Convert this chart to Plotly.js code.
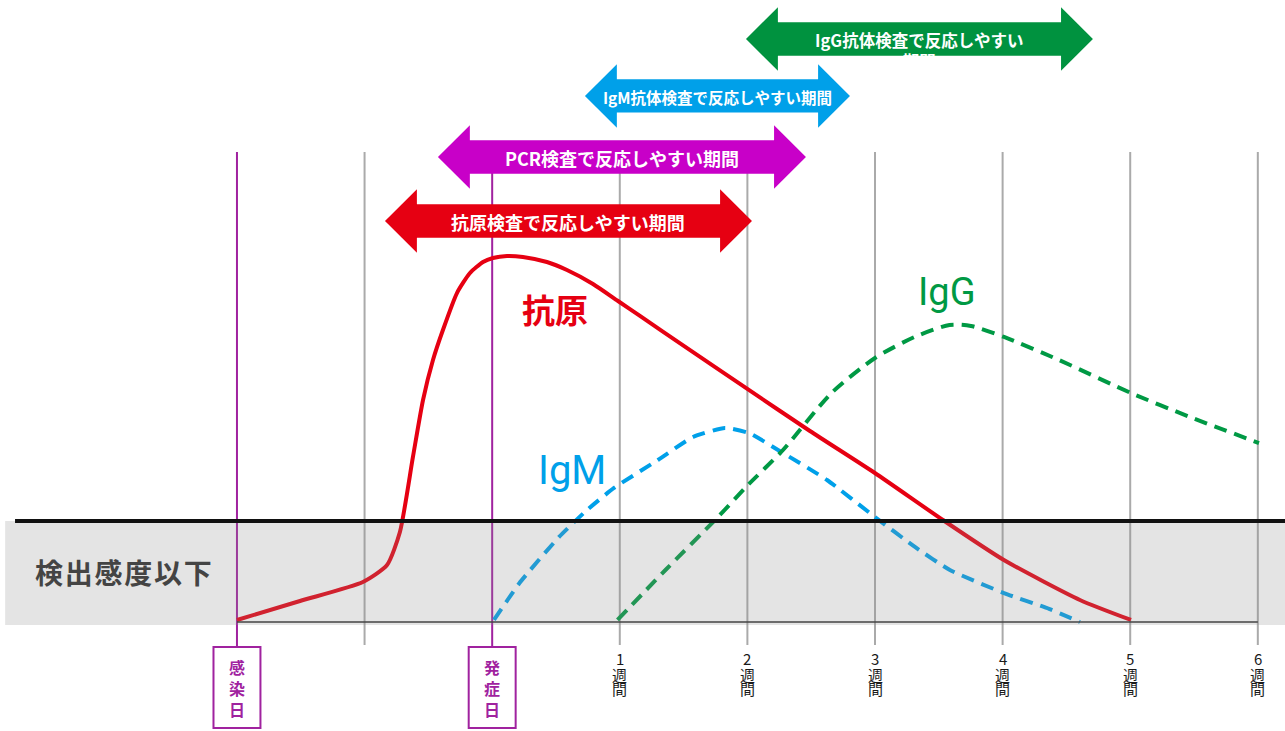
<!DOCTYPE html>
<html>
<head>
<meta charset="utf-8">
<script src="https://cdn.plot.ly/plotly-3.0.1.min.js"></script>
<style>html,body{margin:0;padding:0;background:#fff;}#chart{width:1285px;height:731px;}</style>
</head>
<body>
<div id="chart"></div>
<script>
// ---- data (x in weeks from onset, y in detection units; 1 = detection limit) ----
const antigenX = [-2.000,-1.506,-1.013,-0.824,-0.723,-0.621,-0.542,-0.464,-0.386,-0.276,-0.174,-0.072,0.006,0.116,0.241,0.429,0.586,0.790,0.986,1.158,1.470,1.988,2.490,2.999,3.532,4.010,4.606,5.006];
const antigenY = [0.02,0.208,0.396,0.564,0.891,1.634,2.198,2.594,2.891,3.257,3.455,3.564,3.604,3.624,3.614,3.564,3.485,3.347,3.178,3.030,2.762,2.317,1.891,1.475,1.010,0.614,0.218,0.020];
const igmX = [0.014,0.214,0.524,0.743,0.955,1.299,1.574,1.824,2.012,2.279,2.624,2.999,3.313,3.587,4.010,4.364,4.606];
const igmY = [0.020,0.386,0.842,1.109,1.327,1.604,1.832,1.921,1.871,1.673,1.406,1.040,0.743,0.515,0.287,0.130,0.000];
const iggX = [0.982,1.358,1.770,1.989,2.279,2.659,3.000,3.310,3.584,3.752,4.011,4.442,5.006,5.468,6.009];
const iggY = [0.020,0.515,1.040,1.337,1.703,2.267,2.614,2.822,2.941,2.931,2.822,2.594,2.267,2.030,1.772];

const eventNames = ['感染日','発症日'];
const eventX = [-2, 0];
const gridX = [-1, 1, 2, 3, 4, 5, 6];
const weekTicks = [1, 2, 3, 4, 5, 6];
const weekNums = ['1','2','3','4','5','6'];

const periodLabels = ['IgG抗体検査で反応しやすい<br>期間','IgM抗体検査で反応しやすい期間','PCR検査で反応しやすい期間','抗原検査で反応しやすい期間'];
const periodStart = [1.989, 0.727, -0.425, -0.840];
const periodEnd = [4.708, 2.804, 2.459, 2.036];
const periodLevel = [5.772, 5.208, 4.604, 3.970];
const periodColors = ['#00923f','#00a0e9','#c800c8','#e60012'];
const periodFont = [16.5, 15.5, 18, 18];

const threshold = 1;
const blankLabel = '検出感度以下';

// ---- geometry helpers ----
const headLen = 0.25, bodyHalf = 0.165, headHalf = 0.315;
function arrowPath(x0, x1, yc) {
  const p = [[x0,yc],[x0+headLen,yc+headHalf],[x0+headLen,yc+bodyHalf],[x1-headLen,yc+bodyHalf],[x1-headLen,yc+headHalf],[x1,yc],[x1-headLen,yc-headHalf],[x1-headLen,yc-bodyHalf],[x0+headLen,yc-bodyHalf],[x0+headLen,yc-headHalf]];
  return 'M' + p.map(q => q[0] + ',' + q[1]).join(' L') + ' Z';
}

const gridTop = 4.653, gridBottom = -0.228, boxTop = -0.248, boxBottom = -1.050, boxHalfW = 0.184;
const JP = '"Noto Sans CJK JP", "Noto Sans", sans-serif';

const shapes = [];
gridX.forEach(x => shapes.push({type:'line', xref:'x', yref:'y', x0:x, x1:x, y0:gridBottom, y1:gridTop, line:{color:'#aaaaaa', width:2}, layer:'below'}));
eventX.forEach(x => shapes.push({type:'line', xref:'x', yref:'y', x0:x, x1:x, y0:boxTop, y1:gridTop, line:{color:'#a0229f', width:2}, layer:'below'}));
shapes.push({type:'rect', xref:'paper', yref:'y', x0:0.004, x1:1, y0:-0.03, y1:threshold, fillcolor:'rgba(142,142,142,0.24)', line:{width:0}, layer:'above'});
shapes.push({type:'line', xref:'x', yref:'y', x0:-2, x1:6, y0:0, y1:0, line:{color:'#444444', width:1.5}, layer:'above'});
shapes.push({type:'line', xref:'paper', yref:'y', x0:0.0117, x1:1, y0:threshold, y1:threshold, line:{color:'#111111', width:4}, layer:'above'});
periodLabels.forEach((t, i) => shapes.push({type:'path', xref:'x', yref:'y', path:arrowPath(periodStart[i], periodEnd[i], periodLevel[i]), fillcolor:periodColors[i], line:{width:0}, layer:'above'}));
eventX.forEach(x => shapes.push({type:'rect', xref:'x', yref:'y', x0:x-boxHalfW, x1:x+boxHalfW, y0:boxBottom, y1:boxTop, fillcolor:'#ffffff', line:{color:'#a0229f', width:2}, layer:'above'}));

const annotations = [];
periodLabels.forEach((t, i) => {
  const xc = (periodStart[i] + periodEnd[i]) / 2;
  const wrapped = t.indexOf('<br>') >= 0;
  annotations.push({xref:'x', yref:'y', x:xc, y:periodLevel[i] + (wrapped ? -0.11 : -0.01), text:'<b>' + t + '</b>', showarrow:false, align:'center', font:{family:JP, size:periodFont[i], color:'#ffffff'}, xanchor:'center', yanchor:'middle'});
});

annotations.push({xref:'x', yref:'y', x:0.492, y:3.10, text:'<b>抗原</b>', showarrow:false, font:{family:JP, size:33, color:'#e60012'}, xanchor:'center', yanchor:'middle'});
annotations.push({xref:'x', yref:'y', x:0.625, y:1.50, text:'IgM', showarrow:false, font:{family:'Roboto, sans-serif', size:40, color:'#00a0e9'}, xanchor:'center', yanchor:'middle'});
annotations.push({xref:'x', yref:'y', x:3.564, y:3.27, text:'IgG', showarrow:false, font:{family:'Roboto, sans-serif', size:38, color:'#009944'}, xanchor:'center', yanchor:'middle'});

annotations.push({xref:'x', yref:'y', x:-2.893, y:0.50, text:'<b>' + blankLabel.split('').join('\u200a') + '</b>', showarrow:false, font:{family:JP, size:28, color:'#444444'}, xanchor:'center', yanchor:'middle'});

// week labels (stacked vertically, one glyph per row)
const weekRowY = [-0.357, -0.515, -0.663];
weekTicks.forEach((x, i) => {
  [weekNums[i], '週', '間'].forEach((ch, k) => annotations.push({xref:'x', yref:'y', x:x, y:weekRowY[k], text:ch, showarrow:false, font:{family:JP, size:15, color:'#1a1a1a'}, xanchor:'center', yanchor:'middle'}));
});
// event labels in boxes
eventX.forEach((x, i) => {
  annotations.push({xref:'x', yref:'y', x:x, y:-0.655, text:'<b>' + eventNames[i].split('').join('<br>') + '</b>', showarrow:false, font:{family:JP, size:16, color:'#a0229f'}, xanchor:'center', yanchor:'middle'});
});

const traces = [
  {x:antigenX, y:antigenY, type:'scatter', mode:'lines', name:'抗原', line:{color:'#e60012', width:4, shape:'spline', smoothing:0.6}, hoverinfo:'skip'},
  {x:igmX, y:igmY, type:'scatter', mode:'lines', name:'IgM', line:{color:'#00a0e9', width:4, dash:'13px,8px', shape:'spline', smoothing:0.5}, hoverinfo:'skip'},
  {x:iggX, y:iggY, type:'scatter', mode:'lines', name:'IgG', line:{color:'#009944', width:4, dash:'13px,8px', shape:'spline', smoothing:0.7}, hoverinfo:'skip'}
];

const layout = {
  width:1285, height:731,
  margin:{l:0, r:0, t:0, b:0, pad:0},
  paper_bgcolor:'#ffffff', plot_bgcolor:'#ffffff',
  showlegend:false,
  xaxis:{range:[-3.857, 6.213], visible:false, fixedrange:true},
  yaxis:{range:[-1.079, 6.158], visible:false, fixedrange:true},
  shapes:shapes,
  annotations:annotations
};

Plotly.newPlot('chart', traces, layout, {displayModeBar:false, staticPlot:true});
</script>
</body>
</html>
